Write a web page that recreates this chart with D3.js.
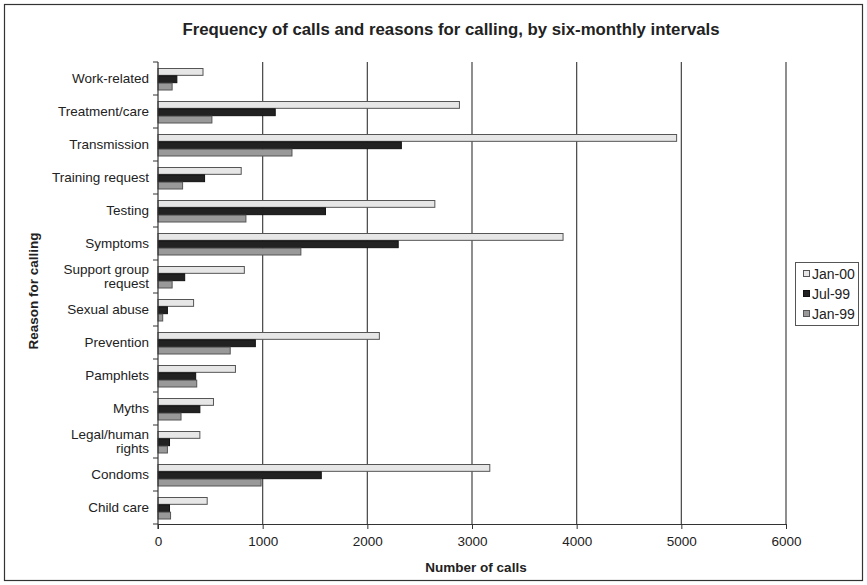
<!DOCTYPE html>
<html>
<head>
<meta charset="utf-8">
<script src="https://cdn.jsdelivr.net/npm/d3@7"></script>
<style>
  body { margin: 0; background: #fff; }
  text { font-family: "Liberation Sans", Arial, sans-serif; fill: #222; }
</style>
</head>
<body>
<div id="chart"></div>
<script>
// categories top to bottom
var reasons = ["Work-related", "Treatment/care", "Transmission", "Training request", "Testing",
    "Symptoms", "Support group request", "Sexual abuse", "Prevention", "Pamphlets", "Myths",
    "Legal/human rights", "Condoms", "Child care"];
var series = ["Jan-00", "Jul-99", "Jan-99"];
var jan00 = [430, 2880, 4955, 795, 2645, 3870, 825, 340, 2115, 740, 530, 400, 3170, 470];
var jul99 = [180, 1120, 2325, 445, 1600, 2295, 255, 90, 930, 360, 400, 110, 1560, 110];
var jan99 = [135, 515, 1280, 235, 840, 1365, 135, 45, 690, 370, 220, 90, 985, 120];
var xTicks = [0, 1000, 2000, 3000, 4000, 5000, 6000];
var colors = ["#e6e6e6", "#222222", "#999999"];

var W = 867, H = 585;
// plot area (window.top is reserved, so prefix these)
var pLeft = 158, pRight = 786, pTop = 62, pBottom = 524;

var svg = d3.select("#chart").append("svg")
    .attr("width", W).attr("height", H);

// outer frame
svg.append("rect")
    .attr("x", 4.5).attr("y", 4.5)
    .attr("width", W - 9).attr("height", H - 9)
    .attr("fill", "none").attr("stroke", "#333").attr("stroke-width", 1.2);

svg.append("text")
    .attr("x", 451).attr("y", 35)
    .attr("text-anchor", "middle")
    .style("font-size", "16.8px").style("font-weight", "bold")
    .text("Frequency of calls and reasons for calling, by six-monthly intervals");

var x = d3.scaleLinear().domain([0, 6000]).range([pLeft, pRight]);
var y = d3.scaleBand().domain(reasons).range([pTop, pBottom]);
var inner = d3.scaleBand().domain(series).range([6, y.bandwidth() - 5]);

// gridlines
svg.append("g").selectAll("line")
    .data(xTicks.slice(1))
    .enter().append("line")
    .attr("x1", d => x(d)).attr("x2", d => x(d))
    .attr("y1", pTop).attr("y2", pBottom)
    .attr("stroke", "#444").attr("stroke-width", 1.2);

var allData = [jan00, jul99, jan99];
var g = svg.append("g");
series.forEach(function (s, si) {
    g.selectAll("rect.s" + si)
        .data(allData[si])
        .enter().append("rect")
        .attr("class", "s" + si)
        .attr("x", x(0))
        .attr("y", (d, i) => y(reasons[i]) + inner(s) + 0.5)
        .attr("width", d => x(d) - x(0))
        .attr("height", inner.bandwidth() - 0.5)
        .attr("fill", colors[si])
        .attr("stroke", si === 1 ? "#111" : "#555")
        .attr("stroke-width", 1);
});

// x axis
var xAxis = d3.axisBottom(x).tickValues(xTicks).tickSize(5).tickSizeOuter(0).tickFormat(d3.format("d"));
var xa = svg.append("g").attr("transform", "translate(0," + pBottom + ")").call(xAxis);
xa.select(".domain").attr("stroke", "#333").attr("stroke-width", 1.2);
xa.selectAll(".tick line").attr("stroke", "#333");
xa.selectAll("text").style("font-size", "13.5px").attr("dy", "1.05em");

// y axis
svg.append("line")
    .attr("x1", pLeft).attr("x2", pLeft).attr("y1", pTop).attr("y2", pBottom + 5)
    .attr("stroke", "#333").attr("stroke-width", 1.2);
svg.append("g").selectAll("line")
    .data(reasons.concat(["end"]))
    .enter().append("line")
    .attr("x1", pLeft - 5).attr("x2", pLeft)
    .attr("y1", (d, i) => pTop + i * y.step())
    .attr("y2", (d, i) => pTop + i * y.step())
    .attr("stroke", "#333");

var labelLines = {
    "Support group request": ["Support group", "request"],
    "Legal/human rights": ["Legal/human", "rights"]
};
var lab = svg.append("g").selectAll("text")
    .data(reasons)
    .enter().append("text")
    .attr("text-anchor", "end")
    .style("font-size", "13.5px")
    .attr("transform", d => "translate(149," + (y(d) + y.bandwidth() / 2) + ")");
lab.each(function (d) {
    var lines = labelLines[d] || [d];
    var t = d3.select(this);
    lines.forEach(function (l, k) {
        t.append("tspan")
            .attr("x", 0)
            .attr("y", (k - (lines.length - 1) / 2) * 14)
            .attr("dy", "0.35em")
            .text(l);
    });
});

svg.append("text")
    .attr("x", 476).attr("y", 572)
    .attr("text-anchor", "middle")
    .style("font-size", "13.5px").style("font-weight", "bold")
    .text("Number of calls");

svg.append("text")
    .attr("transform", "translate(38,291) rotate(-90)")
    .attr("text-anchor", "middle")
    .style("font-size", "13.5px").style("font-weight", "bold")
    .text("Reason for calling");

// legend
var lg = svg.append("g");
lg.append("rect")
    .attr("x", 795.5).attr("y", 262.5).attr("width", 63).attr("height", 63)
    .attr("fill", "#fff").attr("stroke", "#555");
series.forEach(function (s, i) {
    lg.append("rect")
        .attr("x", 803.5).attr("y", 270.5 + i * 20)
        .attr("width", 6).attr("height", 6)
        .attr("fill", colors[i]).attr("stroke", i === 1 ? "#111" : "#555");
    lg.append("text")
        .attr("x", 812).attr("y", 274 + i * 20)
        .attr("dy", "0.35em")
        .style("font-size", "14px")
        .text(s);
});
</script>
</body>
</html>
